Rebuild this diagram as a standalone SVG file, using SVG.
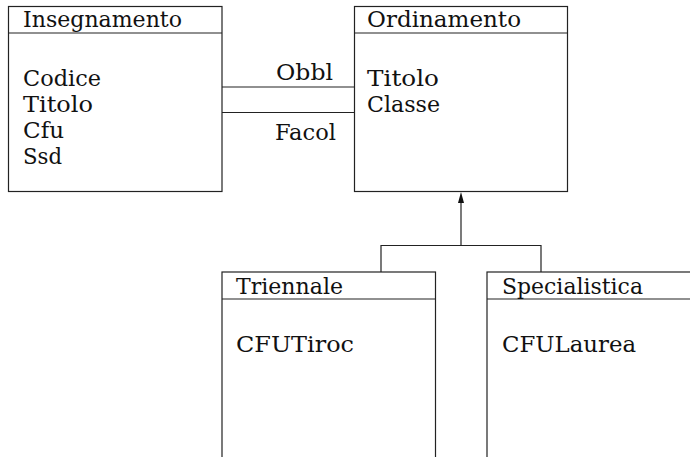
<svg xmlns="http://www.w3.org/2000/svg" width="690" height="457" viewBox="0 0 690 457">
<style>
.box{fill:#fff;stroke:#222;stroke-width:1.2}
.ln{fill:none;stroke:#222;stroke-width:1.2}
.t{font-family:'DejaVu Serif','Liberation Serif','Times New Roman',serif;font-size:23px;fill:#111}
</style>
<rect width="690" height="457" fill="#fff"/>
<g id="connectors">
<line class="ln" x1="222" y1="87" x2="354" y2="87"/>
<line class="ln" x1="222" y1="112.5" x2="354" y2="112.5"/>
<text class="t" x="276" y="80" textLength="57" lengthAdjust="spacingAndGlyphs">Obbl</text>
<text class="t" x="275" y="140" textLength="61" lengthAdjust="spacingAndGlyphs">Facol</text>
<polyline class="ln" points="381,272 381,245.5 541,245.5 541,272"/>
<line class="ln" x1="461" y1="245.5" x2="461" y2="200"/>
<polygon points="461,192 458,203 464,203" fill="#111"/>
</g>
<g id="Insegnamento">
<rect class="box" x="8.5" y="6.5" width="213.5" height="185"/>
<line class="ln" x1="8.5" y1="33" x2="222" y2="33"/>
<text class="t" x="23" y="27" textLength="159" lengthAdjust="spacingAndGlyphs">Insegnamento</text>
<text class="t" x="23" y="86" textLength="78" lengthAdjust="spacingAndGlyphs">Codice</text>
<text class="t" x="23" y="111.5" textLength="70" lengthAdjust="spacingAndGlyphs">Titolo</text>
<text class="t" x="23" y="137.5" textLength="41" lengthAdjust="spacingAndGlyphs">Cfu</text>
<text class="t" x="23" y="164" textLength="39" lengthAdjust="spacingAndGlyphs">Ssd</text>
</g>
<g id="Ordinamento">
<rect class="box" x="354.5" y="6.5" width="213" height="185"/>
<line class="ln" x1="354.5" y1="33" x2="567.5" y2="33"/>
<text class="t" x="367" y="27" textLength="154" lengthAdjust="spacingAndGlyphs">Ordinamento</text>
<text class="t" x="367" y="86" textLength="72" lengthAdjust="spacingAndGlyphs">Titolo</text>
<text class="t" x="367" y="112" textLength="73" lengthAdjust="spacingAndGlyphs">Classe</text>
</g>
<g id="Triennale">
<rect class="box" x="222" y="272" width="213.5" height="200"/>
<line class="ln" x1="222" y1="299" x2="435.5" y2="299"/>
<text class="t" x="236" y="294" textLength="107" lengthAdjust="spacingAndGlyphs">Triennale</text>
<text class="t" x="236" y="352" textLength="118" lengthAdjust="spacingAndGlyphs">CFUTiroc</text>
</g>
<g id="Specialistica">
<rect class="box" x="487" y="272" width="220" height="200"/>
<line class="ln" x1="487" y1="299" x2="700" y2="299"/>
<text class="t" x="502" y="294" textLength="141" lengthAdjust="spacingAndGlyphs">Specialistica</text>
<text class="t" x="502" y="352" textLength="134" lengthAdjust="spacingAndGlyphs">CFULaurea</text>
</g>
</svg>
